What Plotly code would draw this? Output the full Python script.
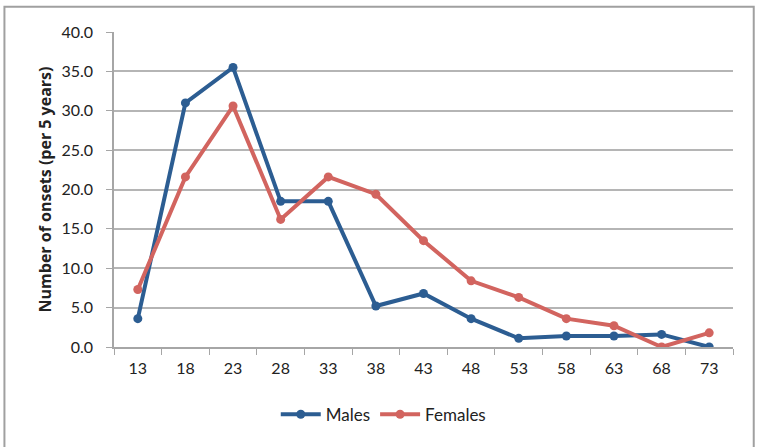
import plotly.graph_objects as go

ages = ["13", "18", "23", "28", "33", "38", "43", "48", "53", "58", "63", "68", "73"]
males = [3.6, 31.0, 35.5, 18.5, 18.5, 5.2, 6.8, 3.6, 1.1, 1.4, 1.4, 1.6, 0.0]
females = [7.3, 21.6, 30.6, 16.2, 21.6, 19.4, 13.5, 8.4, 6.3, 3.6, 2.7, 0.0, 1.8]
y_ticks = [0, 5, 10, 15, 20, 25, 30, 35, 40]

blue = "#2C5D92"
red = "#D2645F"
font_family = "Lato, Open Sans, Liberation Sans, sans-serif"

fig = go.Figure()
fig.add_trace(go.Scatter(x=ages, y=males, name="Males", mode="lines+markers",
                         line=dict(color=blue, width=4), marker=dict(size=9, color=blue)))
fig.add_trace(go.Scatter(x=ages, y=females, name="Females", mode="lines+markers",
                         line=dict(color=red, width=4), marker=dict(size=9, color=red)))

fig.update_layout(
    width=759, height=447,
    margin=dict(l=113.5, r=26, t=32.3, b=100.3, autoexpand=False),
    paper_bgcolor="white", plot_bgcolor="white",
    font=dict(family=font_family, size=16, color="#222222"),
    showlegend=True,
    legend=dict(orientation="h", x=0.435, xanchor="center", y=-0.215, yanchor="middle",
                font=dict(size=17), itemwidth=40, traceorder="normal"),
    xaxis=dict(type="category", showgrid=False, showline=True, linecolor="#A6A6A6", linewidth=1.5,
               ticks="outside", tickson="boundaries", ticklen=6, tickcolor="#A6A6A6",
               range=[-0.5, 12.5], automargin=False, ticklabelstandoff=6),
    yaxis=dict(range=[0, 40], tickvals=y_ticks, tickformat=".1f", showgrid=True,
               gridcolor="#B5B5B5", gridwidth=1.5, showline=True, linecolor="#A6A6A6", linewidth=1.5,
               ticks="outside", ticklen=6, tickcolor="#A6A6A6", zeroline=False, automargin=False,
               ticklabelstandoff=10,
               title=dict(text="<b>Number of onsets (per 5 years)</b>",
                          font=dict(size=16, family="Open Sans, Liberation Sans, sans-serif"),
                          standoff=6)),
)

fig.add_shape(type="rect", xref="paper", yref="paper",
              x0=-0.177, x1=1.0335, y0=-0.4, y1=1.0805,
              line=dict(color="#A0A0A0", width=2), fillcolor="rgba(0,0,0,0)", layer="below")

fig.write_html("out.html", post_script="document.body.style.margin='0';",
               config={"displayModeBar": False})
